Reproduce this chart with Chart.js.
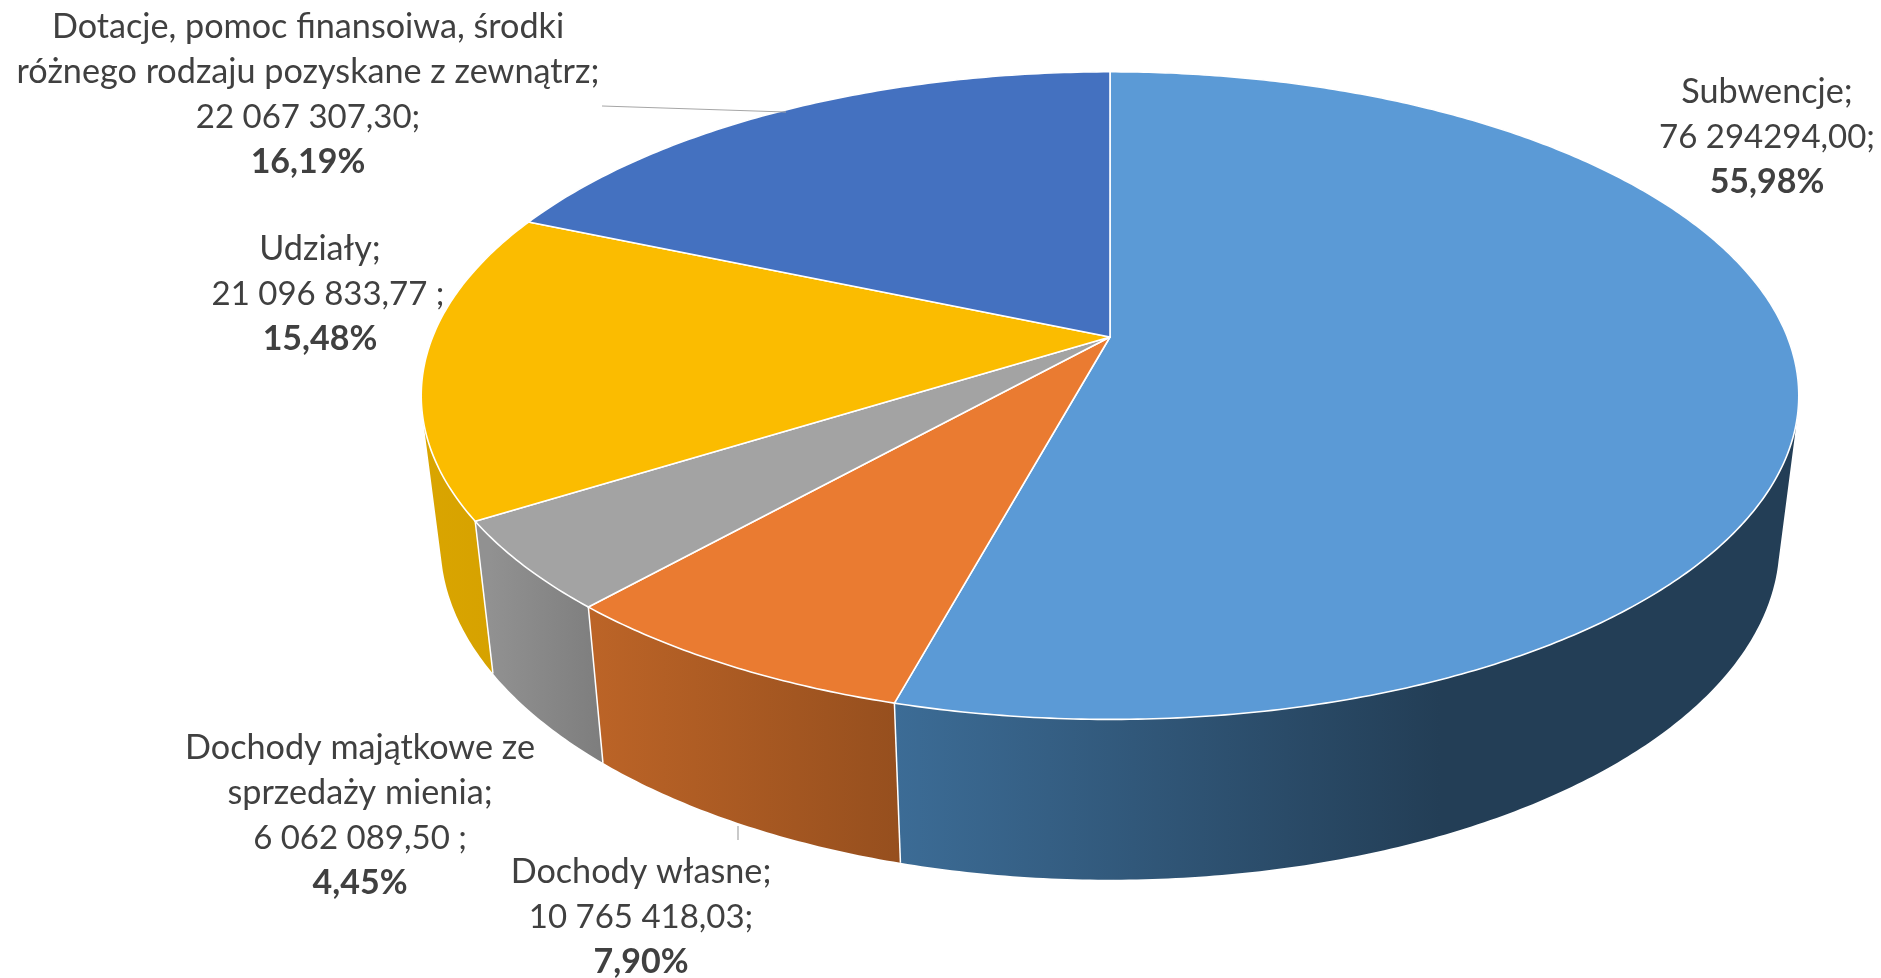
<!DOCTYPE html>
<html lang="pl">
<head>
<meta charset="utf-8">
<title>Dochody</title>
<style>
    html, body { margin: 0; padding: 0; background: #fff; }
    canvas { display: block; }
</style>
<script src="https://cdn.jsdelivr.net/npm/chart.js@4/dist/chart.umd.js"></script>
</head>
<body>
<canvas id="pieChartContainer" width="1881" height="978"></canvas>
<script>
// Dane
const categories = ['Subwencje', 'Dochody własne', 'Dochody majątkowe ze sprzedaży mienia', 'Udziały', 'Dotacje, pomoc finansoiwa, środki różnego rodzaju pozyskane z zewnątrz'];
const amounts = [76294294.00, 10765418.03, 6062089.50, 21096833.77, 22067307.30];
const amountLabels = ['76 294294,00;', '10 765 418,03;', '6 062 089,50 ;', '21 096 833,77 ;', '22 067 307,30;'];
const percentLabels = ['55,98%', '7,90%', '4,45%', '15,48%', '16,19%'];
const topColors = ['#5B9AD6', '#EA7B31', '#A3A3A3', '#FBBC00', '#4471C0'];

// Rzut perspektywiczny tarczy (Chart.js nie ma wykresu 3D)
const center = { x: 1110, y: 337 };
const view = { a: 677.4, b: 313.2, tilt: 0.181 };
const base = { sx: 0.972, sy: 1.04, drop: 145 };
// korekta kąta, żeby granice wycinków wypadały tak jak w programie, z którego pochodzi obraz
const angleFix = [[0, 0], [200, 193.8], [230, 221.8], [246, 237.9], [300, 291.2], [360, 360]];

const wallShades = [
    { from: 895, to: 1440, c0: '#3C6C96', c1: '#233E56' },
    { from: 590, to: 900, c0: '#BC6427', c1: '#964F1E' },
    { from: 490, to: 605, c0: '#919191', c1: '#7D7D7D' },
    { from: 420, to: 495, c0: '#DAA500', c1: '#D6A200' }
];
const wallFallback = '#233E56';

const labelBlocks = [
    { x: 1767, y: 92, lines: ['Subwencje;'] },
    { x: 641, y: 872, lines: ['Dochody własne;'] },
    { x: 360, y: 748, lines: ['Dochody majątkowe ze', 'sprzedaży mienia;'] },
    { x: 320, y: 249, amountShift: 8, lines: ['Udziały;'] },
    { x: 308, y: 27, lines: ['Dotacje, pomoc finansoiwa, środki', 'różnego rodzaju pozyskane z zewnątrz;'] }
];
const leaders = [
    [602, 106, 786, 112],
    [738, 826, 738, 840]
];
const lineStep = 45;

function fixAngle(deg) {
    for (let i = 1; i < angleFix.length; i++) {
        if (deg <= angleFix[i][0]) {
            const p = angleFix[i - 1], q = angleFix[i];
            return p[1] + (deg - p[0]) / (q[0] - p[0]) * (q[1] - p[1]);
        }
    }
    return deg;
}

// angle = kąt z Chart.js (radiany, -PI/2 to godzina 12)
function project(angle, bottom) {
    const deg = (angle + Math.PI / 2) * 180 / Math.PI;
    const t = fixAngle(deg) * Math.PI / 180;
    const u = Math.sin(t), v = -Math.cos(t);
    const w = 1 - view.tilt * v;
    let dx = view.a * u / w, dy = view.b * v / w;
    if (bottom) {
        dx *= base.sx;
        dy = dy * base.sy + base.drop;
    }
    return [center.x + dx, center.y + dy];
}

function rimPoints(arc, bottom) {
    const pts = [];
    const n = Math.max(4, Math.ceil((arc.endAngle - arc.startAngle) / 0.01));
    for (let i = 0; i <= n; i++) {
        pts.push(project(arc.startAngle + (arc.endAngle - arc.startAngle) * i / n, bottom));
    }
    return pts;
}

function signedArea(q) {
    let s = 0;
    q.forEach((p, i) => {
        const n = q[(i + 1) % q.length];
        s += p[0] * n[1] - n[0] * p[1];
    });
    return s;
}

const pie3d = {
    id: 'pie3d',
    beforeDatasetDraw(chart, args) {
        const ctx = chart.ctx;
        const arcs = chart.getDatasetMeta(args.index).data;
        ctx.save();
        ctx.lineJoin = 'round';
        // boczne ściany: paski w jednej ścieżce, wszystkie w tym samym kierunku,
        // bo ściana zawija się na krawędzi elipsy
        arcs.forEach((arc, i) => {
            const top = rimPoints(arc, false), bot = rimPoints(arc, true);
            const shade = wallShades[i];
            let paint = wallFallback;
            if (shade) {
                paint = ctx.createLinearGradient(shade.from, 0, shade.to, 0);
                paint.addColorStop(0, shade.c0);
                paint.addColorStop(1, shade.c1);
            }
            ctx.fillStyle = paint;
            ctx.beginPath();
            for (let k = 0; k < top.length - 1; k++) {
                const quad = [top[k], top[k + 1], bot[k + 1], bot[k]];
                if (signedArea(quad) < 0) quad.reverse();
                quad.forEach((p, j) => j ? ctx.lineTo(p[0], p[1]) : ctx.moveTo(p[0], p[1]));
                ctx.closePath();
            }
            ctx.fill();
        });
        // biała krawędź na styku wycinków
        arcs.forEach((arc, i) => {
            if (i === 0) return;
            const a = project(arc.startAngle, false), b = project(arc.startAngle, true);
            ctx.strokeStyle = '#fff';
            ctx.lineWidth = 1.5;
            ctx.beginPath();
            ctx.moveTo(a[0], a[1]);
            ctx.lineTo(b[0], b[1]);
            ctx.stroke();
        });
        // wierzch
        arcs.forEach(arc => {
            ctx.beginPath();
            ctx.moveTo(center.x, center.y);
            rimPoints(arc, false).forEach(p => ctx.lineTo(p[0], p[1]));
            ctx.closePath();
            ctx.fillStyle = arc.options.backgroundColor;
            ctx.fill();
            ctx.strokeStyle = '#fff';
            ctx.lineWidth = 1.6;
            ctx.stroke();
        });
        ctx.restore();
        return false;
    },
    afterDraw(chart) {
        const ctx = chart.ctx;
        ctx.save();
        ctx.strokeStyle = '#A6A6A6';
        ctx.lineWidth = 1.2;
        leaders.forEach(l => {
            ctx.beginPath();
            ctx.moveTo(l[0], l[1]);
            ctx.lineTo(l[2], l[3]);
            ctx.stroke();
        });
        ctx.fillStyle = '#404040';
        ctx.textAlign = 'center';
        ctx.textBaseline = 'middle';
        labelBlocks.forEach((b, i) => {
            ctx.font = '400 34.2px Lato';
            b.lines.forEach((t, k) => ctx.fillText(t, b.x, b.y + k * lineStep));
            const row = b.lines.length;
            ctx.font = '400 33px Lato';
            ctx.fillText(amountLabels[i], b.x + (b.amountShift || 0), b.y + row * lineStep);
            ctx.font = '700 34px Lato';
            ctx.fillText(percentLabels[i], b.x, b.y + (row + 1) * lineStep);
        });
        ctx.restore();
    }
};

const ctxPieChart = document.getElementById('pieChartContainer').getContext('2d');

const pieChart = new Chart(ctxPieChart, {
    type: 'pie',
    data: {
        labels: categories,
        datasets: [{
            data: amounts,
            backgroundColor: topColors,
            borderColor: '#fff',
            borderWidth: 1
        }]
    },
    options: {
        responsive: false,
        animation: false,
        plugins: {
            legend: { display: false },
            tooltip: { enabled: false }
        }
    },
    plugins: [pie3d]
});
</script>
</body>
</html>
